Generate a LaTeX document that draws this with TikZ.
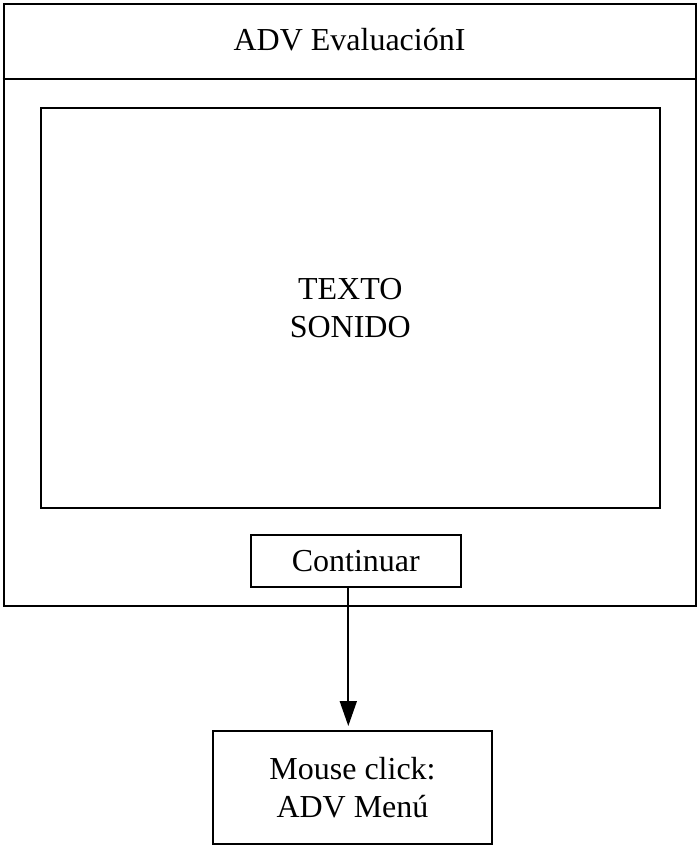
\documentclass[tikz,border=0pt]{standalone}
\usepackage{fontspec}
\setmainfont{Liberation Serif}
\usetikzlibrary{positioning,arrows.meta,calc}

\begin{document}
\begin{tikzpicture}[
  x=0.5pt,y=-0.5pt,
  every node/.style={font=\fontsize{16}{19}\selectfont},
  box/.style={draw,line width=1pt,align=center,inner sep=0pt},
  arrow/.style={-{Triangle[length=12.5pt,width=8.5pt]},line width=0.9pt}
]
  \useasboundingbox (0,0) rectangle (697,846);
  % window frame and title bar
  \node[box,minimum width=346.25pt,minimum height=301pt] (win) at (349.75,304.5) {};
  \coordinate (bar) at (0,78.5);
  \draw[line width=1pt] (win.west |- bar) -- (win.east |- bar);
  \node (title) at (349.5,40) {ADV EvaluaciónI};
  % content area
  \node[box,minimum width=309.25pt,minimum height=200pt] (area) at (350.25,308) {TEXTO\\SONIDO};
  \node[box,minimum width=105.15pt,minimum height=26pt] (cont) at (355.85,561) {Continuar};
  % target screen
  \node[box,minimum width=139.5pt,minimum height=56.5pt] (menu) at (352.5,787.5) {Mouse click:\\ADV Menú};
  \coordinate (tip) at ([xshift=-2.1pt,yshift=2pt]menu.north);
  \draw[arrow] (cont.south -| tip) -- (tip);
\end{tikzpicture}
\end{document}
